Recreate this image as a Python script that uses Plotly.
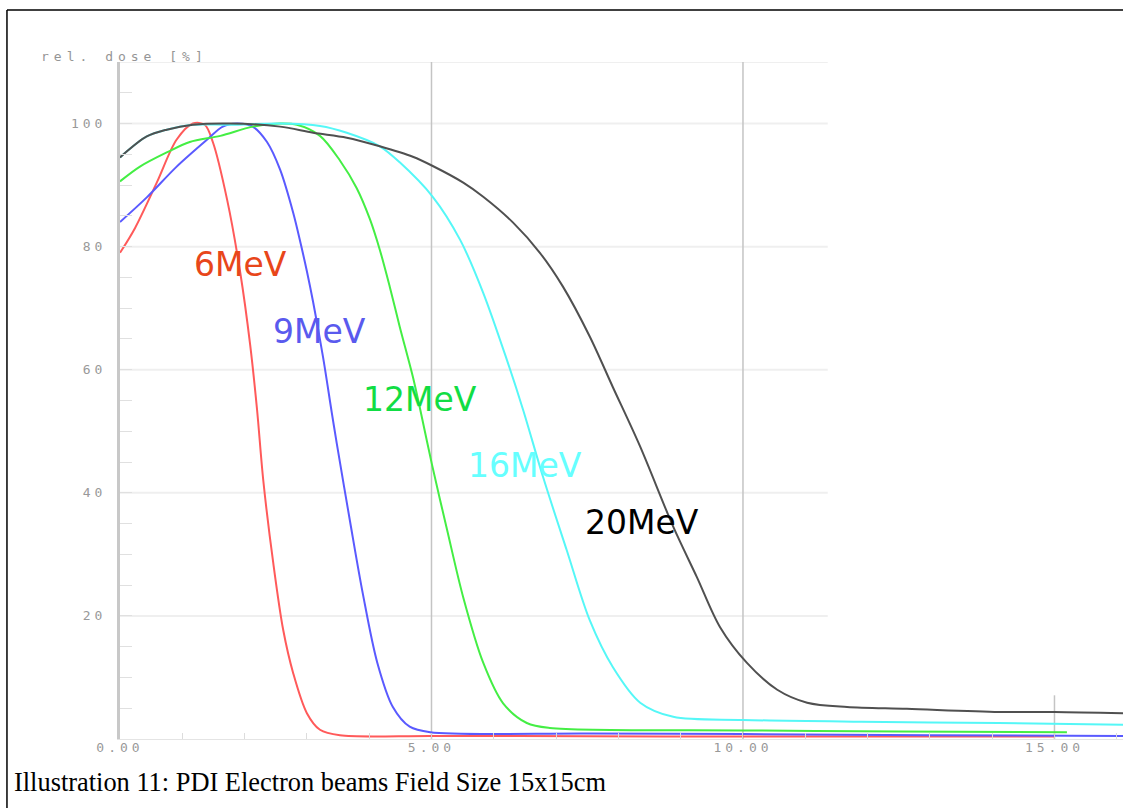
import plotly.graph_objects as go

# ---------------- data (depth in cm, relative dose in %) ----------------
depth_6 = [0, 0.24, 0.59, 0.91, 1.17, 1.36, 1.49, 1.72, 1.93, 2.09, 2.20, 2.30,
           2.46, 2.62, 2.78, 3.00, 3.21, 3.53, 5.0, 7.5, 10.0, 12.5, 15.0]
dose_6 = [79, 83, 90.4, 97.4, 100, 99.8, 97, 87.6, 75.8, 64, 53.5, 42,
          28.6, 17.7, 10.7, 4.2, 1.5, 0.6, 0.5, 0.45, 0.4, 0.4, 0.4]

depth_9 = [0, 0.43, 0.91, 1.40, 1.65, 1.88, 2.13, 2.36, 2.57, 2.78, 2.90, 3.00,
           3.10, 3.26, 3.40, 3.48, 3.69, 3.90, 4.13, 4.38, 4.65, 4.98, 7.5, 10.0, 13.0, 16.1]
dose_9 = [84, 88, 93, 97.4, 99.5, 100, 99.5, 97, 92.5, 85.5, 80.5, 76,
          71, 62, 53, 48, 35.5, 23.5, 12.4, 5.2, 2.0, 1.1, 0.9, 0.8, 0.6, 0.5]

depth_12 = [0, 0.32, 0.75, 1.12, 1.61, 2.13, 2.57, 2.84, 3.21, 3.53, 3.80, 4.01,
            4.17, 4.33, 4.49, 4.70, 4.82, 5.01, 5.25, 5.51, 5.83, 6.15, 6.53, 6.90,
            10.0, 12.5, 15.2]
dose_12 = [90.6, 93, 95.3, 97, 98, 99.5, 100, 99.8, 98, 94, 89.5, 84.5,
           79.5, 73.5, 67, 58.9, 53.5, 44.5, 34, 23, 12.4, 5.8, 2.6, 1.8,
           1.4, 1.2, 1.1]

depth_16 = [0, 0.43, 0.75, 1.17, 1.77, 2.57, 3.21, 3.64, 4.17, 4.49, 5.02, 5.46,
            5.83, 6.21, 6.47, 6.79, 7.17, 7.54, 7.91, 8.35, 8.88, 10.0, 11.9, 14.1, 16.1]
dose_16 = [94.5, 97.9, 99, 99.8, 99.8, 100, 99.6, 98.5, 96.3, 93.7, 88.1, 81.1,
           72.5, 61.6, 53.5, 42.6, 30.7, 19.3, 11.7, 5.9, 3.6, 3.1, 2.8, 2.6, 2.3]

depth_20 = [0, 0.43, 0.75, 1.17, 1.77, 2.57, 3.10, 3.64, 4.17, 4.70, 5.02, 5.51,
            5.83, 6.31, 6.74, 7.11, 7.54, 7.91, 8.35, 8.88, 9.26, 9.63, 10.06,
            10.55, 11.03, 11.67, 12.63, 14.11, 15.0, 16.1]
dose_20 = [94.5, 97.9, 99, 99.8, 100, 99.5, 98.5, 97.7, 96.3, 94.6, 93.1, 90.4,
           88.1, 83.9, 79, 73.5, 65.4, 57.2, 47.5, 34.5, 26.3, 18.2, 12.4,
           8, 5.9, 5.2, 4.9, 4.4, 4.4, 4.2]

series_names = ["6MeV", "9MeV", "12MeV", "16MeV", "20MeV"]
line_colors = ["#ff5a5a", "#5a5aff", "#44ee44", "#55f7f7", "#505050"]
label_colors = ["#e8461a", "#5a5aee", "#11dd44", "#66ffff", "#000000"]
label_x = [1.93, 3.21, 4.82, 6.50, 8.38]
label_y = [77.1, 66.2, 55.1, 44.4, 35.1]

x_tickvals = [0, 5, 10, 15]
x_ticktext = ["0.00", "5.00", "10.00", "15.00"]
y_tickvals = [20, 40, 60, 80, 100]
y_ticktext = ["20", "40", "60", "80", "100"]
grid_levels = [20, 40, 60, 80, 100, 110]
grid_end = 11.36
vline_full = [5, 10]
vline_short = 15
vline_short_top = 7.1
x_max = 16.1
y_max = 110

depths = [depth_6, depth_9, depth_12, depth_16, depth_20]
doses = [dose_6, dose_9, dose_12, dose_16, dose_20]


def spaced(s, px):
    return '<span style="letter-spacing:%gpx">%s</span>' % (px, s)


fig = go.Figure()
for name, d, v, c in zip(series_names, depths, doses, line_colors):
    fig.add_trace(go.Scatter(x=d, y=v, mode="lines", name=name,
                             line=dict(color=c, width=2, shape="spline", smoothing=0.9),
                             showlegend=False, hoverinfo="skip"))

shapes = []
for g in grid_levels:
    shapes.append(dict(type="line", xref="x", yref="y", x0=0, x1=grid_end, y0=g, y1=g,
                       line=dict(color="#efefef", width=2), layer="below"))
for vx in vline_full:
    shapes.append(dict(type="line", xref="x", yref="y", x0=vx, x1=vx, y0=0, y1=y_max,
                       line=dict(color="#c4c4c4", width=1.5), layer="below"))
shapes.append(dict(type="line", xref="x", yref="y", x0=vline_short, x1=vline_short,
                   y0=0, y1=vline_short_top, line=dict(color="#c4c4c4", width=1.5), layer="below"))
# page frame (left and top edges)
shapes.append(dict(type="line", xref="paper", yref="paper", x0=-0.1127, x1=-0.1127,
                   y0=1.0768, y1=-0.11, line=dict(color="black", width=1.5)))
shapes.append(dict(type="line", xref="paper", yref="paper", x0=-0.1127, x1=1.01,
                   y0=1.0768, y1=1.0768, line=dict(color="black", width=1.5)))

annotations = []
for name, lx, ly, lc in zip(series_names, label_x, label_y, label_colors):
    annotations.append(dict(x=lx, y=ly, xref="x", yref="y", text=name, showarrow=False,
                            font=dict(family="DejaVu Sans", size=33, color=lc),
                            xanchor="center", yanchor="middle"))
annotations.append(dict(x=0.004, y=1.0074, xref="paper", yref="paper",
                        text=spaced("rel. dose [%]", 5),
                        showarrow=False, xanchor="center", yanchor="middle",
                        font=dict(family="DejaVu Sans Mono", size=13, color="#959595")))
annotations.append(dict(x=-0.1077, y=-0.0635, xref="paper", yref="paper",
                        text="Illustration 11: PDI Electron beams Field Size 15x15cm",
                        showarrow=False, xanchor="left", yanchor="middle",
                        font=dict(family="Liberation Serif", size=26.4, color="black")))

fig.update_layout(
    width=1123, height=808,
    margin=dict(l=120, r=0, t=62, b=69),
    paper_bgcolor="white", plot_bgcolor="white",
    shapes=shapes, annotations=annotations,
    showlegend=False,
    xaxis=dict(range=[0, x_max], showgrid=False, zeroline=False,
               showline=True, linecolor="#e4e4e4", linewidth=1,
               tickvals=x_tickvals, ticktext=[spaced(t, 4) for t in x_ticktext],
               ticks="inside", ticklen=6, tickcolor="#cfcfcf",
               minor=dict(dtick=1, tick0=0, ticks="inside", ticklen=6, tickcolor="#dcdcdc"),
               ticklabelstandoff=-4,
               tickfont=dict(family="DejaVu Sans Mono", size=13, color="#999999")),
    yaxis=dict(range=[0, y_max], showgrid=False, zeroline=False,
               showline=True, linecolor="#c8c8c8", linewidth=3,
               tickvals=y_tickvals, ticktext=[spaced(t, 4) for t in y_ticktext],
               ticks="inside", ticklen=12, tickcolor="#e0e0e0",
               minor=dict(dtick=5, tick0=0, ticks="inside", ticklen=12, tickcolor="#e0e0e0"),
               ticklabelstandoff=8,
               tickfont=dict(family="DejaVu Sans Mono", size=13, color="#999999")),
)

fig.write_html("out.html")
